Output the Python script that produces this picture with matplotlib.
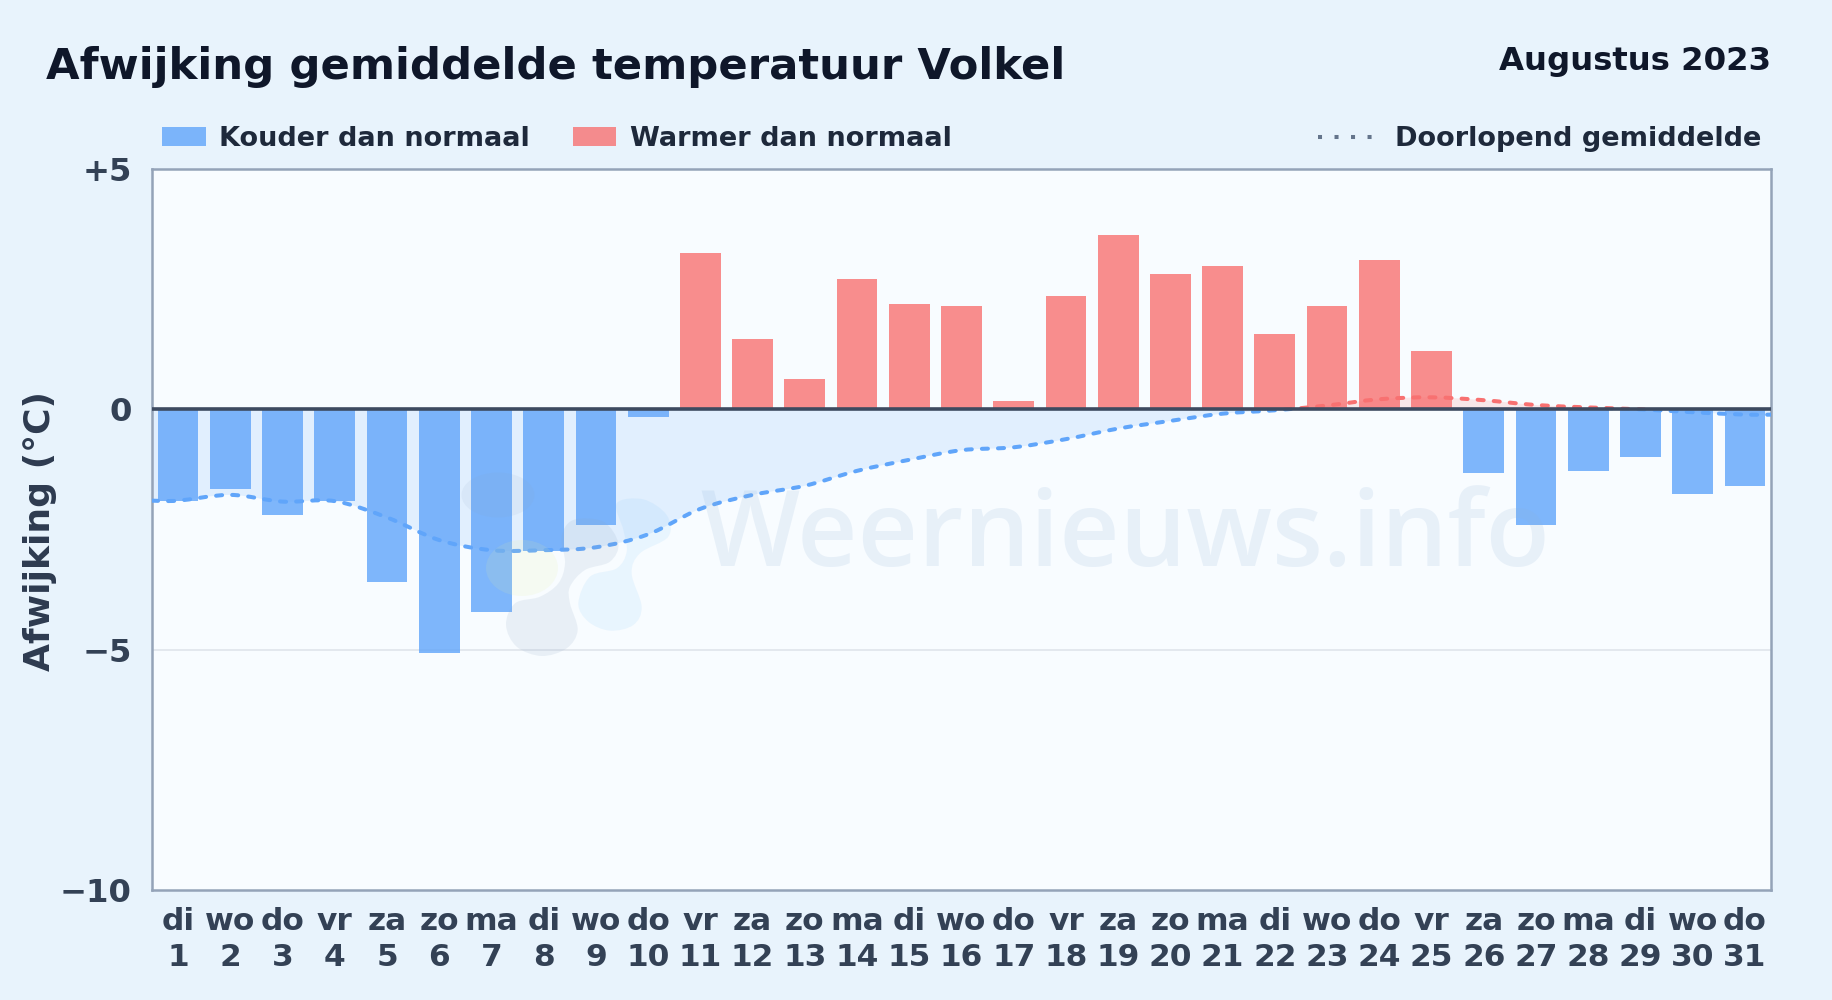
import numpy as np
import matplotlib
matplotlib.use('Agg')
import matplotlib.pyplot as plt
from matplotlib.patches import Ellipse, PathPatch, Rectangle
from matplotlib.path import Path

weekdays = ['di', 'wo', 'do', 'vr', 'za', 'zo', 'ma'] * 4 + ['di', 'wo', 'do']
days = list(range(1, 32))
afwijking = [-1.9, -1.65, -2.2, -1.9, -3.6, -5.06, -4.22, -2.95, -2.4, -0.15,
             3.25, 1.47, 0.63, 2.72, 2.2, 2.15, 0.17, 2.35, 3.62, 2.82,
             2.98, 1.57, 2.15, 3.1, 1.22, -1.33, -2.4, -1.28, -1.0, -1.77, -1.6]
doorlopend = [-1.90, -1.78, -1.92, -1.91, -2.25, -2.72, -2.93, -2.93, -2.87, -2.60,
              -2.07, -1.78, -1.59, -1.28, -1.05, -0.85, -0.79, -0.62, -0.40, -0.24,
              -0.09, -0.02, 0.08, 0.21, 0.25, 0.19, 0.09, 0.04, 0.00, -0.06, -0.11]
yticks = [5, 0, -5, -10]
ytick_labels = ['+5', '0', '\u22125', '\u221210']

BG = '#e8f3fc'
BLUE = '#60a5fa'
RED = '#f87171'
W, H = 1832, 1000


def smooth_path(xs, ys):
    # catmull-rom through the points, as bezier segments
    verts = [(xs[0], ys[0])]
    codes = [Path.MOVETO]
    n = len(xs)
    for i in range(n - 1):
        x0, y0 = xs[max(i - 1, 0)], ys[max(i - 1, 0)]
        x3, y3 = xs[min(i + 2, n - 1)], ys[min(i + 2, n - 1)]
        c1 = (xs[i] + (xs[i + 1] - x0) / 6, ys[i] + (ys[i + 1] - y0) / 6)
        c2 = (xs[i + 1] - (x3 - xs[i]) / 6, ys[i + 1] - (y3 - ys[i]) / 6)
        verts += [c1, c2, (xs[i + 1], ys[i + 1])]
        codes += [Path.CURVE4] * 3
    return verts, codes


def blob(points, x0=430, y0=440, scale=3):
    # closed smooth outline for the logo, points as measured on the crop
    pts = [(x0 + a / scale, y0 + b / scale) for a, b in points]
    pts = pts[-1:] + pts + pts[:2]
    verts, codes = smooth_path([p[0] for p in pts], [p[1] for p in pts])
    return Path(verts[3:-3], [Path.MOVETO] + codes[4:-3])


fig = plt.figure(figsize=(W / 100, H / 100), dpi=100, facecolor=BG)
plt.rcParams['font.family'] = 'DejaVu Sans'
ax = fig.add_axes([152 / W, 1 - 890 / H, (1771 - 152) / W, (890 - 169) / H], facecolor='#f8fcff')
ax.set_xlim(0.5, 31.5)
ax.set_ylim(-10, 5)

colors = [BLUE if v < 0 else RED for v in afwijking]

xs = [0.5] + days + [31.5]
ys = [doorlopend[0]] + doorlopend + [doorlopend[-1]]
verts, codes = smooth_path(xs, ys)
fill_verts = verts + [(31.5, 0), (0.5, 0), (0.5, ys[0])]
fill_codes = codes + [Path.LINETO, Path.LINETO, Path.CLOSEPOLY]

# one curve, clipped in two: blue under zero and red above
for color, y0, y1 in [(BLUE, -10, 0), (RED, 0, 5)]:
    clip = Rectangle((0.5, y0), 31, y1 - y0, transform=ax.transData)
    f = PathPatch(Path(fill_verts, fill_codes), facecolor=color, edgecolor='none', alpha=0.15, zorder=1)
    ax.add_patch(f)
    f.set_clip_path(clip)
    l = PathPatch(Path(verts, codes), facecolor='none', edgecolor=color, lw=2.9,
                  linestyle=(0, (1.5, 2.5)), capstyle='round', zorder=4)
    ax.add_patch(l)
    l.set_clip_path(clip)

ax.bar(days, afwijking, width=0.78, color=colors, alpha=0.8, linewidth=0, zorder=3)
ax.axhline(0, color='#3d4a60', lw=2.6, zorder=5)
ax.axhline(-5, color='#dde3ea', lw=1.1, zorder=0.5)

ax.set_yticks(yticks, ytick_labels)
ax.set_xticks(days, [f'{w}\n{d}' for w, d in zip(weekdays, days)])
ax.tick_params(axis='y', length=0, pad=14.5, labelsize=23.2, labelcolor='#334155')
ax.tick_params(axis='x', length=0, pad=12, labelsize=22.5, labelcolor='#334155')
for lab in ax.get_xticklabels() + ax.get_yticklabels():
    lab.set_fontweight('bold')
for lab in ax.get_xticklabels():
    lab.set_linespacing(1.3)
for sp in ax.spines.values():
    sp.set_color('#94a3b8')
    sp.set_linewidth(1.8)

# overlay in pixels for header, legend and watermark
ov = fig.add_axes([0, 0, 1, 1], facecolor='none', zorder=10)
ov.set_xlim(0, W)
ov.set_ylim(H, 0)
ov.axis('off')

ov.text(46, 79, 'Afwijking gemiddelde temperatuur Volkel', fontsize=31.2, fontweight='bold',
        color='#0f172a', va='baseline')
ov.text(1771, 70, 'Augustus 2023', fontsize=23.3, fontweight='bold', color='#0f172a', ha='right', va='baseline')
ov.text(40, 531, 'Afwijking (\u00b0C)', fontsize=26, fontweight='bold', color='#2d3a4f',
        rotation=90, ha='center', va='center')

ov.add_patch(Rectangle((162, 127), 44, 19, facecolor=BLUE, alpha=0.8, lw=0))
ov.add_patch(Rectangle((573, 127), 43, 19, facecolor=RED, alpha=0.8, lw=0))
ov.text(219, 139, 'Kouder dan normaal', fontsize=19.5, fontweight='bold', color='#1e293b', va='center')
ov.text(630, 139, 'Warmer dan normaal', fontsize=19.5, fontweight='bold', color='#1e293b', va='center')
ov.plot([1318, 1373], [137, 137], color='#64748b', lw=2.9, linestyle=(0, (1, 3.1)))
ov.text(1395, 139, 'Doorlopend gemiddelde', fontsize=19.5, fontweight='bold', color='#1e293b', va='center')

# watermark
ov.text(1125, 566, 'Weernieuws.info', fontsize=75.5, fontweight='semibold', color='#8fb3d9', alpha=0.16,
        family='Open Sans', ha='center', va='baseline')

grey_lower = [(228, 555), (255, 490), (330, 470), (385, 430), (405, 370), (395, 290), (430, 240),
              (520, 245), (565, 310), (540, 365), (465, 390), (420, 440), (420, 490), (443, 570),
              (410, 625), (335, 648), (260, 620)]
blue_lobes = [(445, 490), (480, 410), (560, 385), (590, 335), (580, 270), (560, 190), (640, 178),
              (710, 225), (715, 290), (630, 340), (605, 400), (635, 500), (610, 555), (540, 572), (475, 545)]
ov.add_patch(PathPatch(blob(grey_lower), facecolor='#8ba6c4', edgecolor='none', alpha=0.14))
ov.add_patch(PathPatch(blob(blue_lobes), facecolor='#7cc4fb', edgecolor='none', alpha=0.12))
ov.add_patch(Ellipse((498, 495), 73, 45, facecolor='#8ba6c4', lw=0, alpha=0.1))
ov.add_patch(Ellipse((522, 568), 72, 56, facecolor='#e5eea0', lw=0, alpha=0.13))

fig.savefig('out.png', dpi=100, facecolor=BG)
